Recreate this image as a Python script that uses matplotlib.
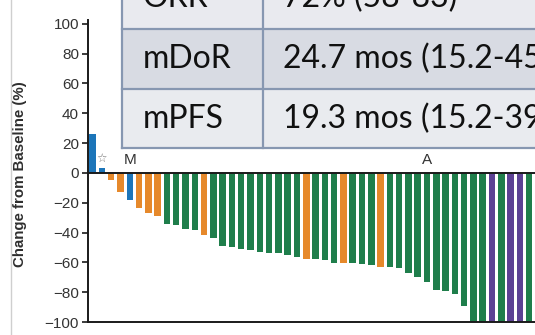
import matplotlib
matplotlib.use("Agg")
import matplotlib.pyplot as plt
from matplotlib.patches import Rectangle
from matplotlib.lines import Line2D
import numpy as np

# Best percentage change from baseline, one bar per patient (sorted)
change = [26, 3.5, -5, -12.5, -18, -23.5, -27, -29,
          -34, -35, -37.5, -38, -41.5, -43.5, -49, -50,
          -51, -51.5, -53, -53.5, -54, -55, -56.5, -57.5,
          -58, -58.7, -60.4, -60.5, -60.7, -61, -61.5, -63,
          -63, -64, -67, -69.5, -73, -78.7, -79.3, -81.5,
          -89.5, -100, -100, -100, -100, -100, -100, -100]
# Response group of each patient
group = ["B", "B", "O", "O", "B", "O", "O", "O",
         "G", "G", "G", "G", "O", "G", "G", "G",
         "G", "G", "G", "G", "G", "G", "G", "O",
         "G", "G", "G", "O", "G", "G", "G", "O",
         "G", "G", "G", "G", "G", "G", "G", "G",
         "G", "G", "G", "P", "G", "P", "P", "G"]
group_colors = {"B": "#1c75b9", "O": "#e6892b", "G": "#1f7e4b", "P": "#5c4194"}

# Patient markers drawn above bars (bar index, label)
markers = [(1, "\u2606"), (4, "M"), (36, "A")]

yticks = [100, 80, 60, 40, 20, 0, -20, -40, -60, -80, -100]
ylabel = "Change from Baseline (%)"

# Summary table overlaid at the top
table_rows = [("ORR", "72% (58-83)"),
              ("mDoR", "24.7 mos (15.2-45"),
              ("mPFS", "19.3 mos (15.2-39")]
row_fill = ["#e9eaef", "#d8dbe3", "#e9ebef"]

W, H = 535, 335
fig = plt.figure(figsize=(W / 100, H / 100), dpi=100)
fig.patch.set_facecolor("white")

ax = fig.add_axes([88 / W, 1 - 322 / H, 1 - 88 / W, (322 - 20) / H])
x = np.arange(len(change))
ax.bar(x, change, width=0.7, color=[group_colors[g] for g in group],
       linewidth=0, zorder=2)
ax.axhline(0, color="#1a1a1a", lw=1.4, zorder=3)
ax.set_xlim(-0.5, 47.63)
ax.set_ylim(-100, 102.5)
ax.set_yticks(yticks)
ax.set_yticklabels([str(t).replace("-", "\u2212") for t in yticks],
                   fontsize=11, color="#333333", family="Liberation Sans")
ax.tick_params(axis="y", length=4.5, width=1.2, pad=2, color="#1a1a1a")
ax.set_xticks([])
for s in ["top", "right"]:
    ax.spines[s].set_visible(False)
for s in ["left", "bottom"]:
    ax.spines[s].set_linewidth(1.4)
    ax.spines[s].set_color("#1a1a1a")
ax.set_ylabel(ylabel, fontsize=10.8, fontweight="bold", color="#2e2e2e",
              family="Liberation Sans")
ax.yaxis.set_label_coords(-(88 - 27) / (W - 88), 0.49)

for idx, lab in markers:
    if lab == "\u2606":
        ax.text(idx, 10, lab, ha="center", va="center", fontsize=8.5,
                color="#777777", family="DejaVu Sans", zorder=4)
    else:
        ax.text(idx, 8.5, lab, ha="center", va="center", fontsize=11,
                color="#333333", family="Liberation Sans", zorder=4)

# Overlay in pixel coordinates for the table and page border
ov = fig.add_axes([0, 0, 1, 1], zorder=10)
ov.set_xlim(0, W)
ov.set_ylim(H, 0)
ov.axis("off")
ov.patch.set_alpha(0)

ov.add_line(Line2D([10.5, 10.5], [0, H], color="#cfcfcf", lw=1))

row_edges = [-32, 28.5, 89, 148]
left, mid, right = 121.7, 263, 560
border = "#8797b1"
for i, (name, val) in enumerate(table_rows):
    top, bot = row_edges[i], row_edges[i + 1]
    ov.add_patch(Rectangle((left, top), right - left, bot - top,
                           facecolor=row_fill[i], edgecolor="none"))
    yc = (top + bot) / 2
    ov.text(143, yc, name, ha="left", va="center", fontsize=23,
            family="Lato", color="#111111")
    ov.text(283, yc, val, ha="left", va="center", fontsize=23,
            family="Lato", color="#111111")
for yy in row_edges:
    ov.add_line(Line2D([left, right], [yy, yy], color=border, lw=1.6))
for xx in [left, mid]:
    ov.add_line(Line2D([xx, xx], [row_edges[0], row_edges[-1]],
                       color=border, lw=1.6))

fig.savefig("out.png", dpi=100, facecolor="white")
